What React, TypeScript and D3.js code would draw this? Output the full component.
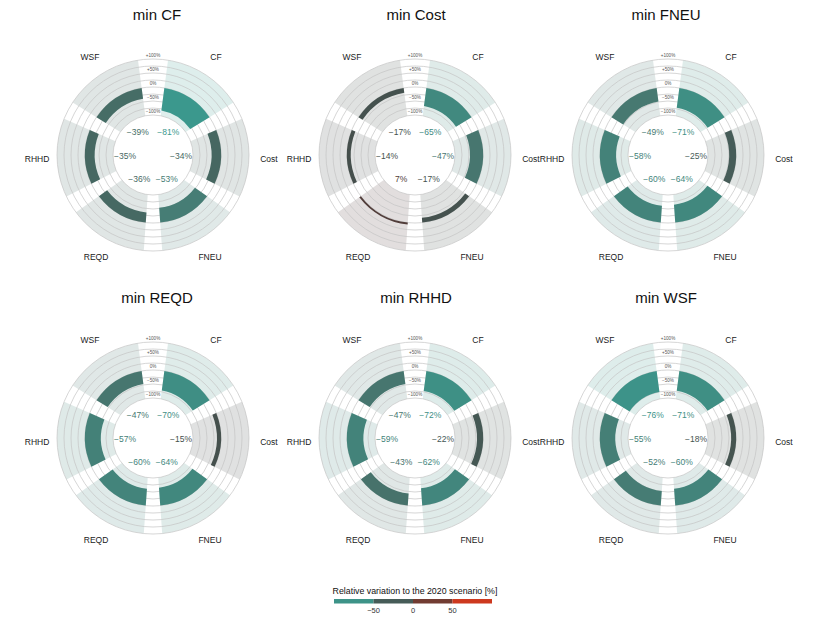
import React, {useEffect, useRef} from 'react';
import * as d3 from 'd3';

// categories go clockwise from the top gap
const categories = ['CF', 'Cost', 'FNEU', 'REQD', 'RHHD', 'WSF'];
const panelTitles = ['min CF', 'min Cost', 'min FNEU', 'min REQD', 'min RHHD', 'min WSF'];

// relative variation [%] per category, same order as categories
const minCF = [-81, -34, -53, -36, -35, -39];
const minCost = [-65, -47, -17, 7, -14, -17];
const minFNEU = [-71, -25, -64, -60, -58, -49];
const minREQD = [-70, -15, -64, -60, -57, -47];
const minRHHD = [-72, -22, -62, -43, -59, -47];
const minWSF = [-71, -18, -60, -52, -55, -76];

const gridValues = [-100, -75, -50, -25, 0, 25, 50, 75, 100];
const tickValues = [-100, -50, 0, 50, 100];
const tickLabels = ['−100%', '−50%', '0%', '+50%', '+100%'];
const legendTicks = [-50, 0, 50];
const legendSteps = [-100, -50, 0, 50, 100];

const width = 830;
const height = 623;
const colCenters = [153, 415, 668];
const titleX = [157, 416, 666];
const rowCenters = [155, 438];

const fmt = (v: number) => (v < 0 ? '−' + Math.abs(v) : '' + v) + '%';

function App() {
    const ref = useRef<SVGSVGElement>(null);

    useEffect(() => {
        const panels = [minCF, minCost, minFNEU, minREQD, minRHHD, minWSF];

        const svg = d3.select(ref.current);
        svg.selectAll('*').remove();

        const color = d3.scaleLinear<string>()
            .domain([-100, -50, 0, 50, 100])
            .range(['#33ab9e', '#477a72', '#443e3d', '#a03a26', '#fa3717'])
            .clamp(true);

        // wider gap at the top for the radial tick labels
        const angle = d3.scaleBand<string>()
            .domain(categories)
            .range([0, 2 * Math.PI])
            .paddingInner(0.136)
            .paddingOuter(0.1275);

        const radius = d3.scaleLinear().domain([-100, 100]).range([40, 96]);

        const arc = d3.arc<any>()
            .padAngle(0.05)
            .padRadius(100);

        panels.forEach((values, p) => {
            const cx = colCenters[p % 3];
            const cy = rowCenters[Math.floor(p / 3)];

            svg.append('text')
                .attr('x', titleX[p % 3])
                .attr('y', cy - 135)
                .attr('text-anchor', 'middle')
                .attr('font-size', '15px')
                .attr('fill', '#111')
                .text(panelTitles[p]);

            const g = svg.append('g').attr('transform', `translate(${cx}, ${cy})`);

            const items = categories.map((c, i) => ({
                cat: c,
                value: values[i],
                startAngle: angle(c)!,
                endAngle: angle(c)! + angle.bandwidth(),
            }));

            // sector backgrounds
            g.selectAll('path.bg')
                .data(items)
                .enter()
                .append('path')
                .attr('class', 'bg')
                .attr('d', (d) => arc({...d, innerRadius: radius(-100), outerRadius: radius(100)}))
                .attr('fill', (d) => color(d.value))
                .attr('fill-opacity', 0.17);

            // grid rings
            g.selectAll('circle.grid')
                .data(gridValues)
                .enter()
                .append('circle')
                .attr('r', (d) => radius(d))
                .attr('fill', 'none')
                .attr('stroke', '#c4c4c4')
                .attr('stroke-width', 0.7);

            // bars from 0 to the value
            g.selectAll('path.bar')
                .data(items)
                .enter()
                .append('path')
                .attr('class', 'bar')
                .attr('d', (d) => arc({
                    ...d,
                    innerRadius: radius(Math.min(0, d.value)),
                    outerRadius: radius(Math.max(0, d.value)),
                }))
                .attr('fill', (d) => color(d.value));

            // radial tick labels in the top gap
            g.selectAll('text.tick')
                .data(tickValues)
                .enter()
                .append('text')
                .attr('x', 0)
                .attr('y', (d) => -radius(d) - 2.5)
                .attr('text-anchor', 'middle')
                .attr('font-size', '4.6px')
                .attr('fill', '#555')
                .text((_, i) => tickLabels[i]);

            const mid = (d: any) => (d.startAngle + d.endAngle) / 2;

            // value labels in the inner disc
            g.selectAll('text.val')
                .data(items)
                .enter()
                .append('text')
                .attr('x', (d) => 28 * Math.sin(mid(d)))
                .attr('y', (d) => -28 * Math.cos(mid(d)))
                .attr('text-anchor', 'middle')
                .attr('dominant-baseline', 'central')
                .attr('font-size', '8.5px')
                .attr('fill', (d) => color(d.value))
                .text((d) => fmt(d.value));

            // category labels
            g.selectAll('text.cat')
                .data(items)
                .enter()
                .append('text')
                .attr('x', (d) => 116 * Math.sin(mid(d)))
                .attr('y', (d) => -117 * Math.cos(mid(d)))
                .attr('text-anchor', 'middle')
                .attr('dominant-baseline', 'central')
                .attr('font-size', '8.5px')
                .attr('fill', '#1a1a1a')
                .text((d) => d.cat);
        });

        // legend
        const lx = d3.scaleLinear().domain([-100, 100]).range([334, 492]);
        const legend = svg.append('g');

        legend.append('text')
            .attr('x', 415)
            .attr('y', 594)
            .attr('text-anchor', 'middle')
            .attr('font-size', '8.8px')
            .attr('fill', '#111')
            .text('Relative variation to the 2020 scenario [%]');

        legend.selectAll('rect')
            .data(d3.pairs(legendSteps))
            .enter()
            .append('rect')
            .attr('x', (d) => lx(d[0]))
            .attr('y', 599)
            .attr('width', (d) => lx(d[1]) - lx(d[0]))
            .attr('height', 4.5)
            .attr('fill', (d) => color((d[0] + d[1]) / 2));

        legend.selectAll('text.lt')
            .data(legendTicks)
            .enter()
            .append('text')
            .attr('x', (d) => lx(d))
            .attr('y', 613)
            .attr('text-anchor', 'middle')
            .attr('font-size', '7.5px')
            .attr('fill', '#333')
            .text((d) => (d < 0 ? '−' + Math.abs(d) : '' + d));
    }, []);

    return (
        <svg
            ref={ref}
            width={width}
            height={height}
            style={{position: 'absolute', left: 0, top: 0, background: '#fff', fontFamily: '"Liberation Sans", Arial, sans-serif'}}
        />
    );
}

export default App;
